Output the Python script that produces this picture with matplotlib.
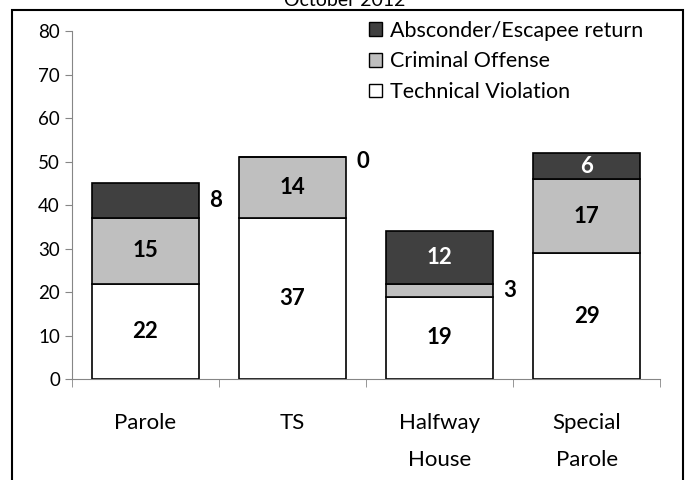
import numpy as np
import matplotlib.pyplot as plt
from matplotlib.patches import Rectangle, Patch

plt.rcParams['font.family'] = ['Lato', 'DejaVu Sans']

# Data
categories = ['Parole', 'TS', 'Halfway\nHouse', 'Special\nParole']
technical = [22, 37, 19, 29]
criminal = [15, 14, 3, 17]
absconder = [8, 0, 12, 6]
series_names = ['Technical Violation', 'Criminal Offense', 'Absconder/Escapee return']
series_colors = ['white', '#bfbfbf', '#404040']
text_colors = ['black', 'black', 'white']
# labels drawn beside the bar instead of inside (series index, bar index)
outside = [(2, 0), (2, 1), (1, 2)]

fig = plt.figure(figsize=(6.9, 4.8), dpi=100)
ax = fig.add_axes([0.104, 0.21, 0.853, 0.725])

x = np.arange(len(categories))
width = 0.73
bottom = np.zeros(len(categories))
for k, (vals, col, tcol) in enumerate(zip([technical, criminal, absconder], series_colors, text_colors)):
    vals = np.array(vals)
    ax.bar(x, vals, width, bottom=bottom, color=col, edgecolor='black', linewidth=1.2, zorder=2)
    for i, v in enumerate(vals):
        if (k, i) in outside:
            ax.text(x[i] + width / 2 + 0.07, bottom[i] + v / 2 - (1 if v == 0 else 0), str(v),
                    ha='left', va='center', fontsize=16, fontweight='bold', color='black', zorder=3)
        else:
            ax.text(x[i], bottom[i] + v / 2, str(v), ha='center', va='center',
                    fontsize=16, fontweight='bold', color=tcol, zorder=3)
    bottom += vals

ax.set_xlim(-0.5, len(categories) - 0.5)
ax.set_ylim(0, 80)
ax.set_yticks(range(0, 81, 10))
ax.set_xticks(x)
ax.set_xticklabels(categories, fontsize=16, linespacing=2.1)
ax.set_xticks(np.arange(-0.5, len(categories), 1), minor=True)
ax.tick_params(axis='x', which='major', length=0, pad=24)
ax.tick_params(axis='x', which='minor', length=6, color='#868686', direction='out')
ax.tick_params(axis='y', length=5, color='#868686', direction='out', labelsize=13.5)
for s in ['top', 'right']:
    ax.spines[s].set_visible(False)
for s in ['left', 'bottom']:
    ax.spines[s].set_color('#868686')

handles = [Patch(facecolor=c, edgecolor='black', label=n)
           for c, n in zip(series_colors, series_names)][::-1]
ax.legend(handles=handles, loc='upper right', bbox_to_anchor=(0.985, 1.055), frameon=False,
          fontsize=15.5, handlelength=0.6, handleheight=0.6, handletextpad=0.35, labelspacing=0.5,
          borderaxespad=0)

# border and clipped title
fig.patches.append(Rectangle((12 / 690, -0.01), 671 / 690, 1.01 - 10 / 480,
                             transform=fig.transFigure, fill=False, edgecolor='black', linewidth=1.5))
fig.text(0.5, 1 - 1 / 480, 'October 2012', ha='center', va='center', fontsize=14)

fig.savefig('out.png', dpi=100)
